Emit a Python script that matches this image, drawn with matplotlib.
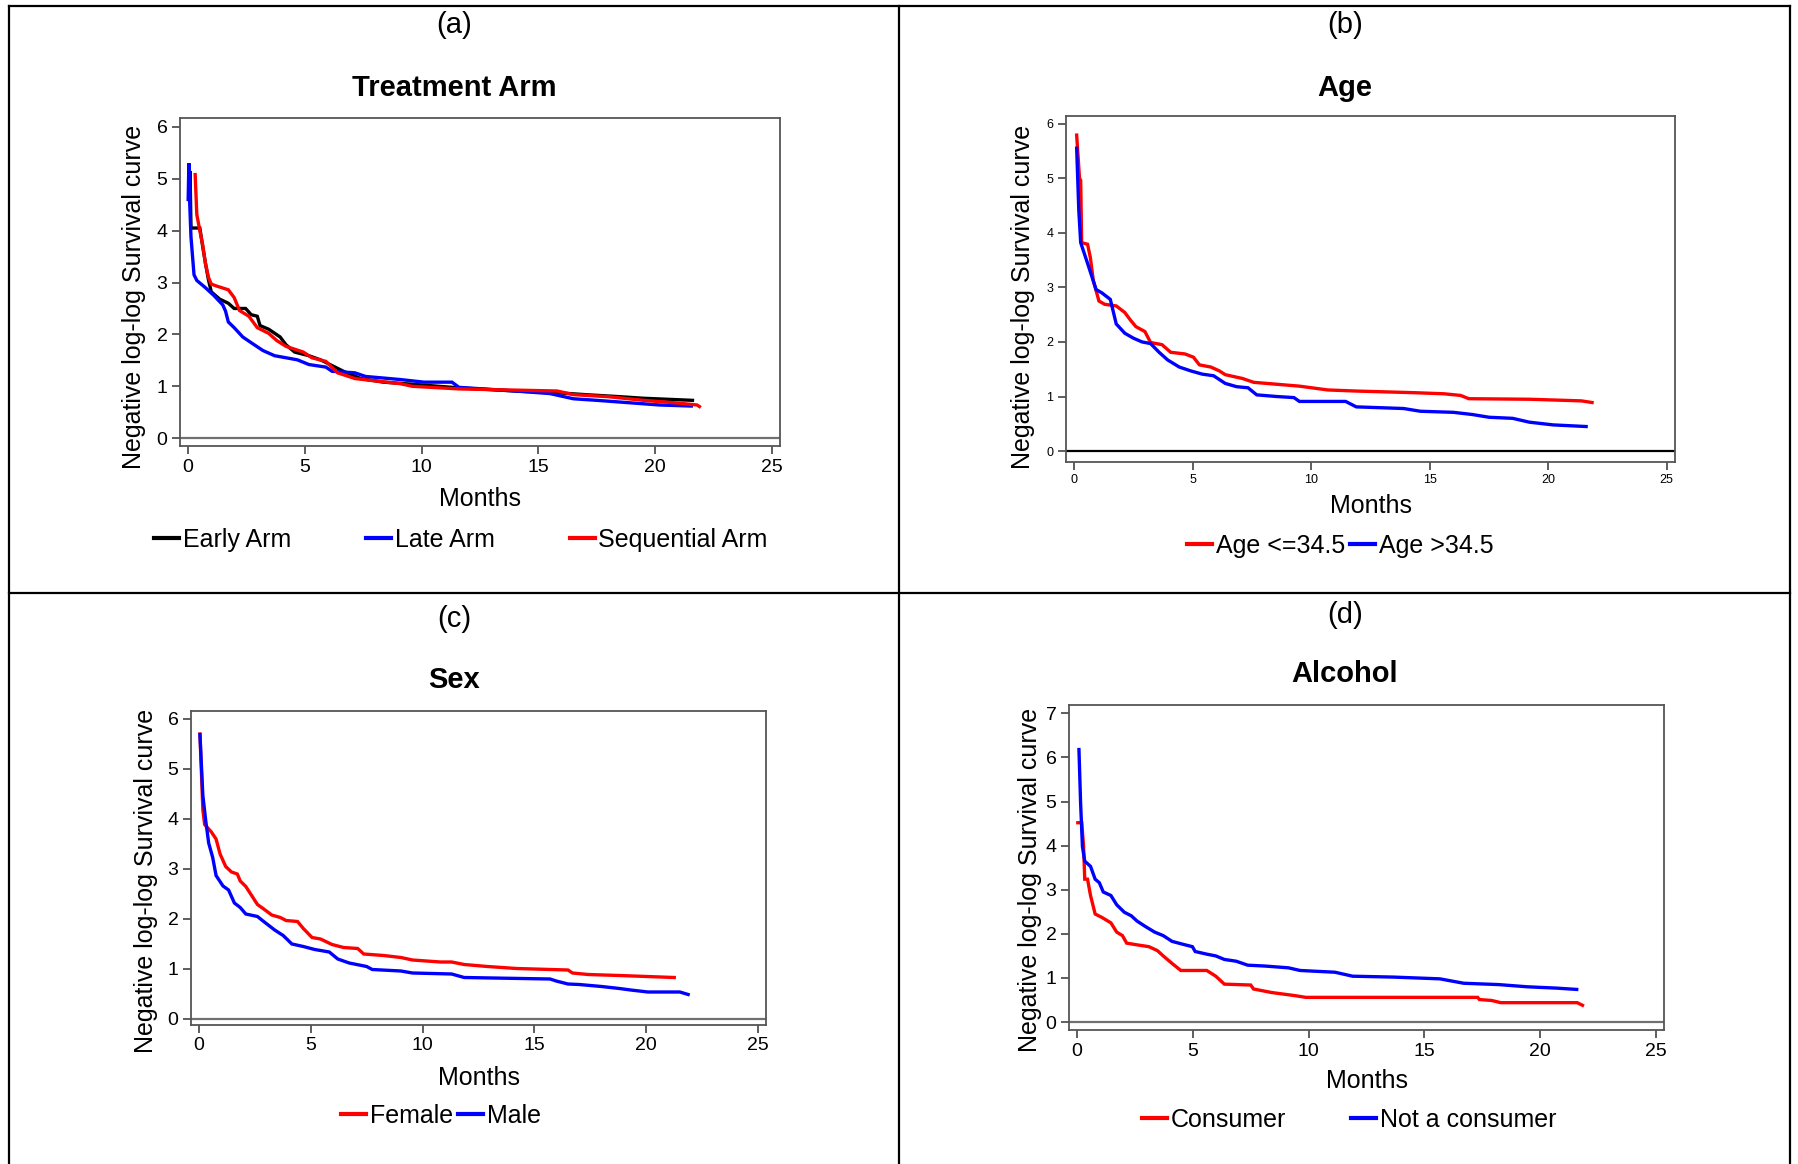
import numpy as np
import matplotlib
matplotlib.use('Agg')
import matplotlib.pyplot as plt
from matplotlib.lines import Line2D

W, H = 1798, 1164
narrow = ['Liberation Sans Narrow', 'Liberation Sans', 'DejaVu Sans']
regular = ['Liberation Sans', 'DejaVu Sans']

# treatment arm curves
early_x = [0.05, 0.08, 0.12, 0.50, 0.62, 0.74, 0.87, 0.99, 1.35, 1.72, 1.97, 2.46, 2.70, 2.96, 3.08, 3.45, 3.94,
           4.19, 4.56, 5.17, 5.67, 6.16, 6.65, 7.39, 8.37, 9.6, 11.6, 14.0, 16.0, 17.0, 18.5, 19.5, 21.6]
early_y = [4.6, 5.15, 4.05, 4.05, 3.70, 3.37, 3.05, 2.82, 2.68, 2.60, 2.50, 2.50, 2.38, 2.35, 2.17, 2.10, 1.95,
           1.80, 1.66, 1.59, 1.51, 1.40, 1.29, 1.15, 1.08, 1.04, 0.97, 0.91, 0.87, 0.84, 0.80, 0.77, 0.73]
late_x = [0.0, 0.03, 0.06, 0.12, 0.25, 0.37, 0.74, 1.10, 1.48, 1.60, 1.72, 1.97, 2.34, 2.70, 3.20, 3.70, 4.68,
          5.17, 5.90, 6.16, 7.14, 7.60, 9.1, 10.1, 11.3, 11.6, 14.0, 15.5, 16.5, 17.5, 19.0, 20.2, 21.55]
late_y = [4.6, 5.3, 4.6, 3.88, 3.15, 3.04, 2.90, 2.75, 2.57, 2.45, 2.24, 2.13, 1.95, 1.84, 1.69, 1.59, 1.51,
          1.42, 1.37, 1.29, 1.26, 1.19, 1.13, 1.08, 1.08, 0.98, 0.91, 0.86, 0.76, 0.73, 0.68, 0.64, 0.62]
seq_x = [0.30, 0.37, 0.50, 0.62, 0.74, 0.87, 0.99, 1.23, 1.72, 1.97, 2.20, 2.60, 2.96, 3.45, 3.80, 4.19, 4.93,
         5.30, 5.90, 6.40, 7.14, 7.90, 9.1, 9.6, 11.6, 15.8, 16.5, 18.0, 19.5, 20.9, 21.8, 21.9]
seq_y = [5.08, 4.31, 4.0, 3.73, 3.37, 3.10, 2.97, 2.93, 2.86, 2.71, 2.46, 2.35, 2.13, 2.02, 1.88, 1.77, 1.66,
         1.55, 1.48, 1.26, 1.15, 1.11, 1.05, 1.00, 0.95, 0.91, 0.84, 0.80, 0.73, 0.68, 0.64, 0.61]

# age curves
young_x = [0.10, 0.22, 0.27, 0.31, 0.56, 0.68, 0.80, 1.04, 1.28, 1.77, 2.13, 2.37, 2.60, 2.98, 3.22, 3.70, 4.07,
           4.67, 5.03, 5.28, 5.76, 6.12, 6.37, 7.10, 7.57, 9.5, 10.7, 11.9, 14.35, 15.6, 16.3, 16.65, 19.2, 21.4, 21.85]
young_y = [5.79, 5.0, 4.96, 3.82, 3.79, 3.54, 3.13, 2.75, 2.69, 2.66, 2.54, 2.40, 2.28, 2.19, 1.99, 1.95, 1.81,
           1.78, 1.72, 1.58, 1.54, 1.47, 1.40, 1.33, 1.26, 1.19, 1.12, 1.10, 1.07, 1.05, 1.02, 0.96, 0.95, 0.92, 0.89]
old_x = [0.10, 0.19, 0.27, 0.56, 0.92, 1.16, 1.52, 1.77, 2.13, 2.49, 2.86, 3.22, 3.58, 3.94, 4.43, 4.91, 5.40, 5.88,
         6.37, 6.85, 7.33, 7.70, 8.54, 9.27, 9.5, 11.45, 11.9, 13.9, 14.6, 16.0, 16.8, 17.5, 18.5, 19.2, 20.2, 21.6]
old_y = [5.55, 4.41, 3.82, 3.44, 2.96, 2.90, 2.78, 2.33, 2.16, 2.07, 2.00, 1.97, 1.81, 1.67, 1.54, 1.47, 1.41, 1.38,
         1.24, 1.18, 1.16, 1.03, 1.00, 0.98, 0.91, 0.91, 0.81, 0.78, 0.73, 0.71, 0.67, 0.62, 0.60, 0.53, 0.48, 0.45]

# sex curves
female_x = [0.05, 0.18, 0.26, 0.56, 0.77, 0.95, 1.20, 1.46, 1.72, 1.85, 2.10, 2.36, 2.62, 2.87, 3.26, 3.64, 3.90,
            4.41, 4.67, 5.06, 5.44, 5.95, 6.47, 7.10, 7.37, 8.26, 9.03, 9.55, 10.8, 11.3, 11.86, 12.9, 14.2, 16.5,
            16.7, 17.4, 18.8, 21.25]
female_y = [5.69, 4.17, 3.88, 3.73, 3.59, 3.29, 3.04, 2.93, 2.89, 2.75, 2.64, 2.46, 2.28, 2.20, 2.07, 2.02, 1.96,
            1.94, 1.80, 1.62, 1.59, 1.48, 1.42, 1.40, 1.29, 1.26, 1.22, 1.17, 1.13, 1.13, 1.08, 1.04, 1.00, 0.97,
            0.91, 0.88, 0.86, 0.82]
male_x = [0.05, 0.18, 0.31, 0.44, 0.62, 0.77, 1.08, 1.33, 1.59, 1.85, 2.10, 2.62, 2.87, 3.39, 3.77, 4.16, 4.67,
          5.18, 5.83, 6.21, 6.72, 7.50, 7.75, 9.03, 9.55, 11.3, 11.86, 15.7, 15.97, 16.5, 17.0, 18.0, 18.8, 19.3,
          20.07, 21.5, 21.87]
male_y = [5.68, 4.46, 3.95, 3.51, 3.22, 2.86, 2.65, 2.57, 2.31, 2.22, 2.09, 2.04, 1.95, 1.77, 1.66, 1.49, 1.44,
          1.38, 1.33, 1.19, 1.11, 1.04, 0.98, 0.95, 0.91, 0.89, 0.82, 0.79, 0.75, 0.69, 0.68, 0.64, 0.60, 0.57,
          0.53, 0.53, 0.48]

# alcohol curves
cons_x = [0.03, 0.20, 0.28, 0.33, 0.45, 0.58, 0.78, 1.08, 1.46, 1.71, 1.96, 2.14, 2.60, 3.10, 3.47, 3.72, 4.10,
          4.48, 5.60, 5.99, 6.36, 7.50, 7.62, 8.40, 9.40, 9.88, 17.3, 17.38, 17.9, 18.3, 21.6, 21.83]
cons_y = [4.52, 4.52, 3.98, 3.24, 3.24, 2.87, 2.45, 2.37, 2.25, 2.04, 1.96, 1.79, 1.75, 1.71, 1.62, 1.50, 1.33,
          1.17, 1.17, 1.04, 0.86, 0.84, 0.75, 0.67, 0.60, 0.56, 0.56, 0.51, 0.49, 0.44, 0.44, 0.38]
noncons_x = [0.08, 0.15, 0.23, 0.33, 0.58, 0.78, 0.96, 1.13, 1.46, 1.71, 2.04, 2.34, 2.59, 2.97, 3.35, 3.72, 4.10,
             4.60, 4.98, 5.10, 5.60, 5.99, 6.36, 6.87, 7.37, 8.12, 9.13, 9.63, 11.14, 11.9, 13.66, 15.67, 16.7,
             18.2, 19.44, 20.7, 21.58]
noncons_y = [6.18, 4.98, 3.98, 3.65, 3.53, 3.24, 3.16, 2.95, 2.87, 2.66, 2.49, 2.41, 2.29, 2.16, 2.04, 1.96, 1.83,
             1.76, 1.71, 1.60, 1.54, 1.50, 1.42, 1.38, 1.29, 1.27, 1.23, 1.17, 1.13, 1.04, 1.02, 0.98, 0.88,
             0.85, 0.80, 0.77, 0.74]


def fx(px):
    return px / W


def fy(py):
    return 1 - py / H


fig = plt.figure(figsize=(W / 100, H / 100), dpi=100)

# panels: tag, title, curves, axes box (px), y range, text rows (px), legend centre, ylabel x, tick size, zero-line colour
panels = [
    dict(tag='(a)', title='Treatment Arm',
         curves=[(early_x, early_y, 'black', 'Early Arm'), (late_x, late_y, '#0000ff', 'Late Arm'),
                 (seq_x, seq_y, '#ff0000', 'Sequential Arm')],
         box=(180, 118, 780, 446), ylim=(-0.15, 6.17), yticks=range(0, 7),
         tag_y=25, title_y=88, months_y=499, leg=(461, 540), colsp=3.0, ylab_x=134, ylab_y=297,
         tsize=14, zcol='#707070', pcx=454),
    dict(tag='(b)', title='Age',
         curves=[(young_x, young_y, '#ff0000', 'Age <=34.5'), (old_x, old_y, '#0000ff', 'Age >34.5')],
         box=(1066, 116, 1675, 462), ylim=(-0.2, 6.14), yticks=range(0, 7),
         tag_y=25, title_y=88, months_y=506, leg=(1340, 546), colsp=0.2, ylab_x=1023, ylab_y=297,
         tsize=9, zcol='black', pcx=1345),
    dict(tag='(c)', title='Sex',
         curves=[(female_x, female_y, '#ff0000', 'Female'), (male_x, male_y, '#0000ff', 'Male')],
         box=(191, 711, 766, 1025), ylim=(-0.13, 6.15), yticks=range(0, 7),
         tag_y=619, title_y=680, months_y=1078, leg=(441, 1116), colsp=0.2, ylab_x=146, ylab_y=881,
         tsize=14, zcol='#707070', pcx=454),
    dict(tag='(d)', title='Alcohol',
         curves=[(cons_x, cons_y, '#ff0000', 'Consumer'), (noncons_x, noncons_y, '#0000ff', 'Not a consumer')],
         box=(1069, 705, 1664, 1030), ylim=(-0.18, 7.19), yticks=range(0, 8),
         tag_y=615, title_y=674, months_y=1081, leg=(1349, 1120), colsp=2.6, ylab_x=1030, ylab_y=880,
         tsize=14, zcol='#707070', pcx=1345),
]

for p in panels:
    l, t, r, b = p['box']
    ax = fig.add_axes([fx(l), fy(b), fx(r) - fx(l), fy(t) - fy(b)])
    for xs, ys, col, lab in p['curves']:
        ax.plot(xs, ys, color=col, lw=2.4, label=lab, solid_joinstyle='miter')
    ax.axhline(0, color=p['zcol'], lw=1.6, zorder=1)
    ax.set_xlim(-0.35, 25.35)
    ax.set_ylim(*p['ylim'])
    ax.set_xticks([0, 5, 10, 15, 20, 25])
    ax.set_yticks(list(p['yticks']))
    for s in ax.spines.values():
        s.set_color('#555555')
        s.set_linewidth(1.3)
    ax.tick_params(direction='out', length=6, width=1.1, color='#333333', pad=3,
                   top=False, right=False)
    for lab in ax.get_xticklabels() + ax.get_yticklabels():
        lab.set_family(narrow)
        lab.set_fontsize(p['tsize'])

    cx = (fx(l) + fx(r)) / 2
    fig.text(fx(p['pcx']), fy(p['tag_y']), p['tag'], ha='center', va='center', fontsize=21, family=regular)
    fig.text(fx(p['pcx']), fy(p['title_y']), p['title'], ha='center', va='center', fontsize=21,
             fontweight='bold', family=narrow)
    fig.text(cx, fy(p['months_y']), 'Months', ha='center', va='center', fontsize=18, family=narrow)
    fig.text(fx(p['ylab_x']), fy(p['ylab_y']), 'Negative log-log Survival curve', ha='center', va='center',
             rotation=90, fontsize=18, family=regular)

    leg = ax.legend(loc='center', bbox_to_anchor=(fx(p['leg'][0]), fy(p['leg'][1])),
                    bbox_transform=fig.transFigure, ncol=len(p['curves']), frameon=False,
                    handlelength=1.0, handletextpad=0.15, columnspacing=p['colsp'],
                    prop={'family': narrow, 'size': 18})
    for h in leg.get_lines():
        h.set_linewidth(3)

# frame lines around the four panels
frame = dict(color='black', lw=1.6)
fig.add_artist(Line2D([fx(9), fx(1790)], [fy(6), fy(6)], **frame))
fig.add_artist(Line2D([fx(9), fx(9)], [fy(6), 0], **frame))
fig.add_artist(Line2D([fx(1790), fx(1790)], [fy(6), 0], **frame))
fig.add_artist(Line2D([fx(899), fx(899)], [fy(6), 0], **frame))
fig.add_artist(Line2D([fx(9), fx(1790)], [fy(593), fy(593)], **frame))

fig.savefig('out.png', dpi=100)
